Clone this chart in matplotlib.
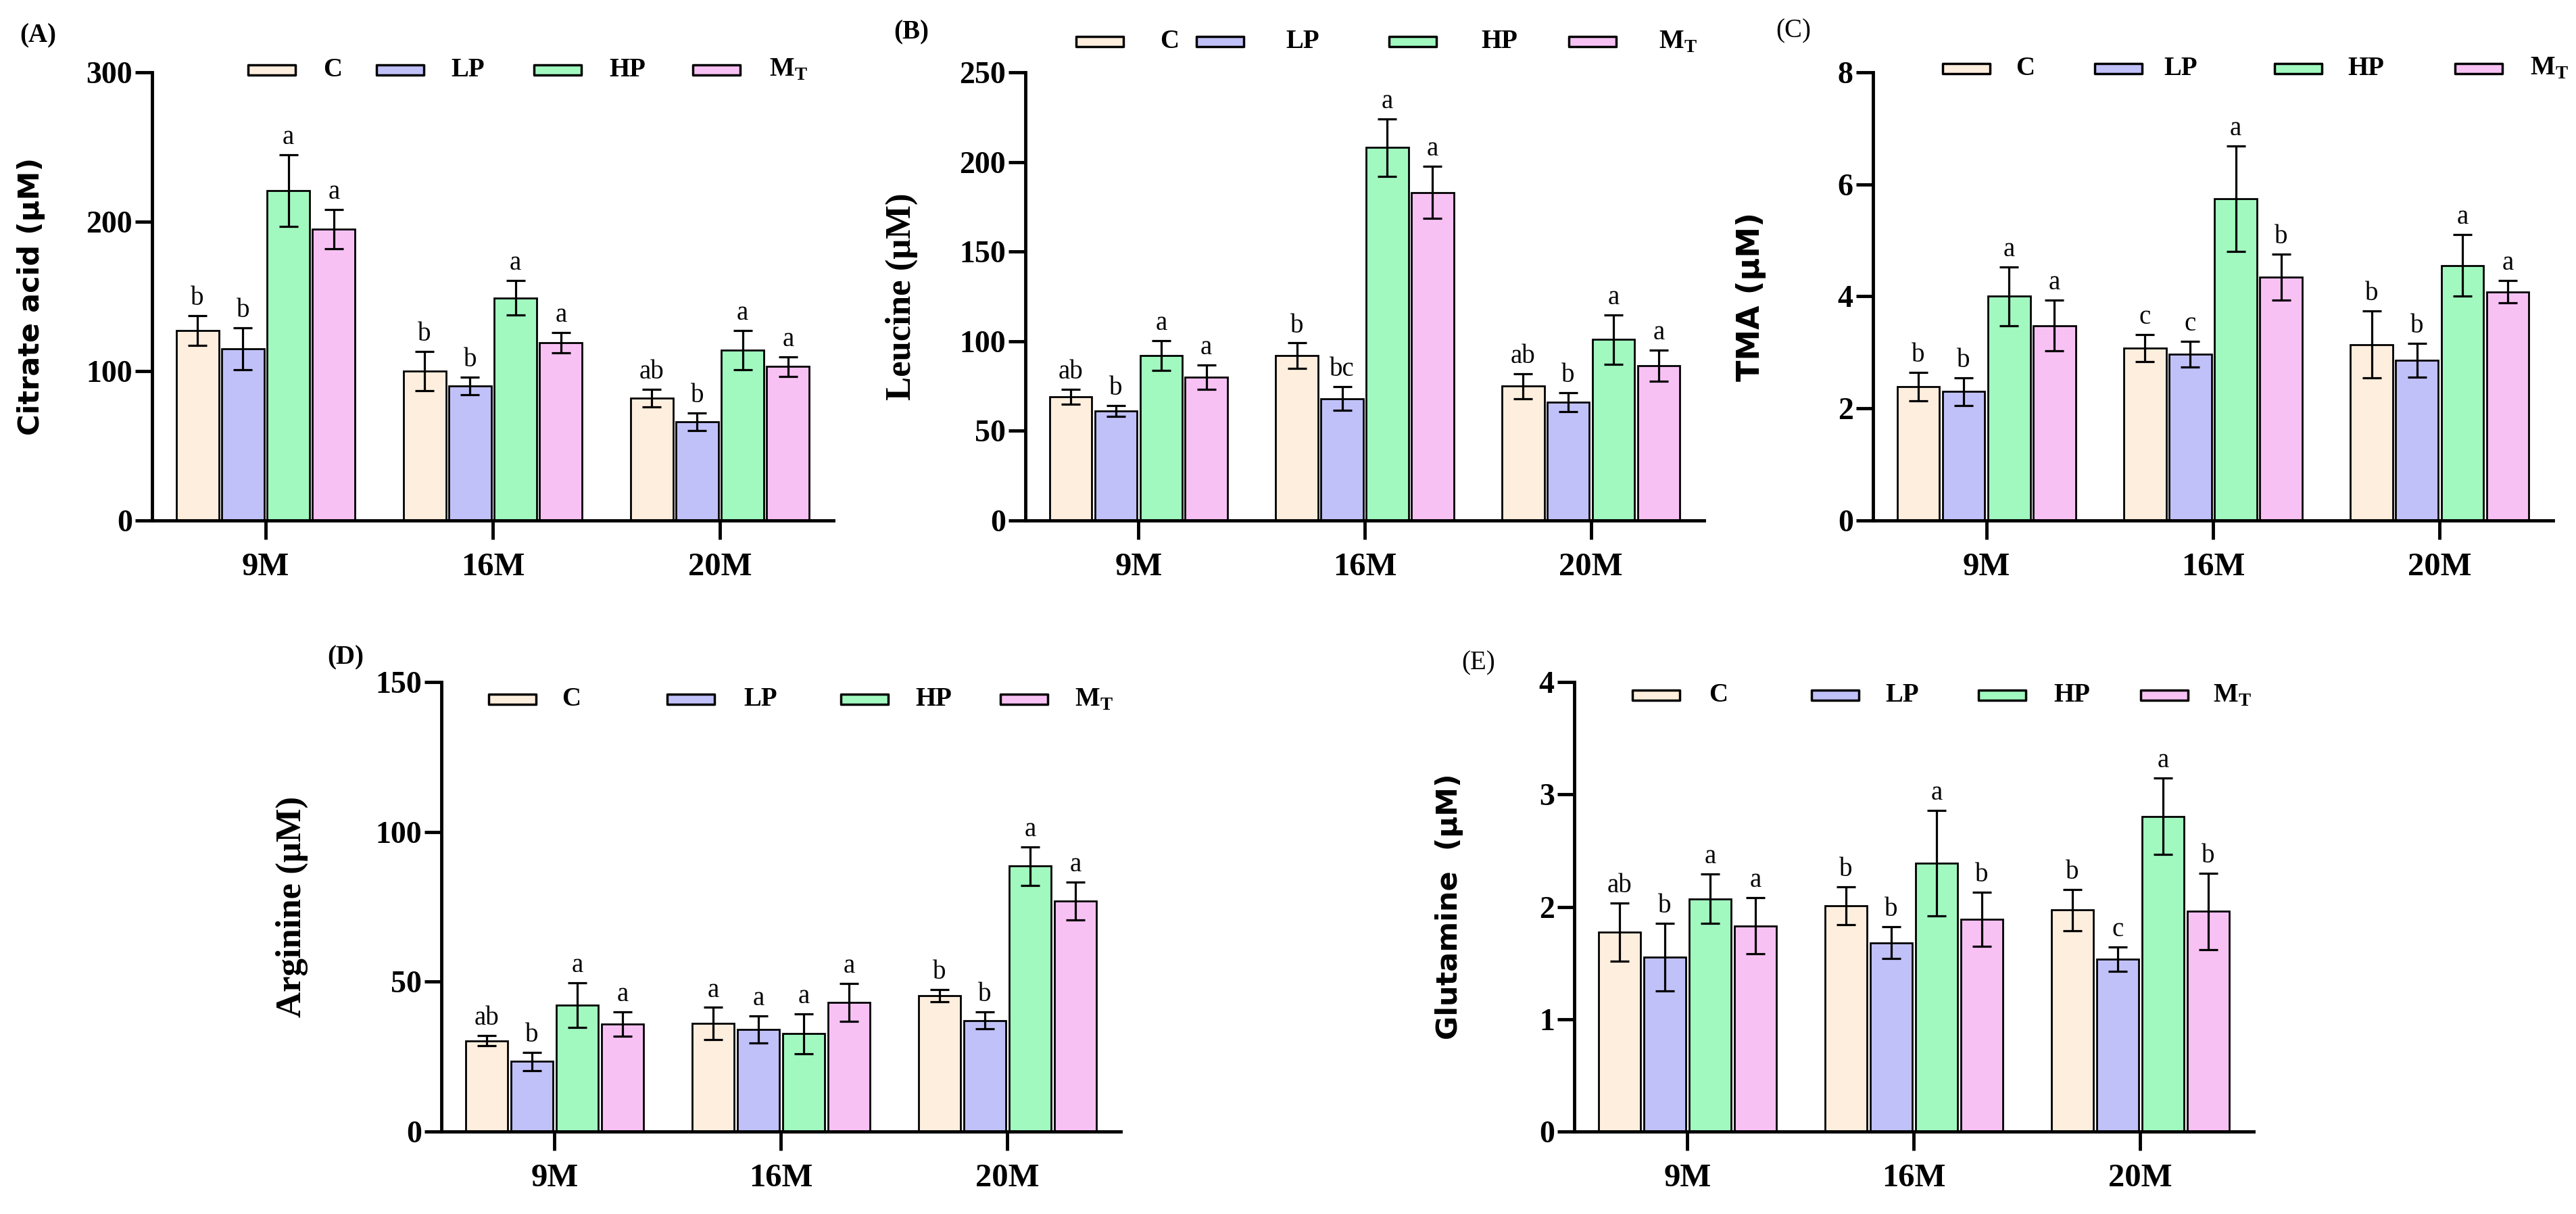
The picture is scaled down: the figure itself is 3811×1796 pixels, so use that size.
import numpy as np
import matplotlib
matplotlib.use('Agg')
import matplotlib.pyplot as plt
from matplotlib.patches import Rectangle

plt.rcParams['font.family'] = 'Liberation Serif'
plt.rcParams['font.weight'] = 'bold'
plt.rcParams['mathtext.fontset'] = 'custom'
plt.rcParams['mathtext.rm'] = 'Liberation Serif:bold'
plt.rcParams['mathtext.bf'] = 'Liberation Serif:bold'

groups = ['9M', '16M', '20M']
series = ['C', 'LP', 'HP', r'M$_\mathregular{T}$']
colors = ['#FEEEDD', '#C1C1FA', '#A1F9BF', '#F8C1F4']

# rows: C, LP, HP, MT   cols: 9M, 16M, 20M
citrate_mean = [[127, 100, 82], [115, 90, 66], [221, 149, 114], [195, 119, 103]]
citrate_err = [[10, 13, 6], [14, 6, 6], [24, 11.5, 13], [13, 7, 6.5]]
citrate_let = [['b', 'b', 'ab'], ['b', 'b', 'b'], ['a', 'a', 'a'], ['a', 'a', 'a']]

leucine_mean = [[69, 92, 75], [61, 68, 66], [92, 208, 101], [80, 183, 86.5]]
leucine_err = [[4.3, 7, 7], [3, 6.7, 5.2], [8.3, 16, 13.8], [6.8, 14.6, 8.7]]
leucine_let = [['ab', 'b', 'ab'], ['b', 'bc', 'b'], ['a', 'a', 'a'], ['a', 'a', 'a']]

tma_mean = [[2.39, 3.08, 3.14], [2.30, 2.97, 2.86], [4.0, 5.74, 4.55], [3.48, 4.34, 4.08]]
tma_err = [[0.25, 0.24, 0.6], [0.25, 0.23, 0.3], [0.52, 0.94, 0.55], [0.45, 0.41, 0.2]]
tma_let = [['b', 'c', 'b'], ['b', 'c', 'b'], ['a', 'a', 'a'], ['a', 'b', 'a']]

arginine_mean = [[30.3, 36.0, 45.3], [23.4, 34.1, 37.1], [42.2, 32.6, 88.6], [35.8, 43.1, 76.9]]
arginine_err = [[1.7, 5.4, 2.1], [3, 4.5, 2.8], [7.4, 6.7, 6.4], [4.1, 6.4, 6.4]]
arginine_let = [['ab', 'a', 'b'], ['b', 'a', 'b'], ['a', 'a', 'a'], ['a', 'a', 'a']]

glutamine_mean = [[1.775, 2.01, 1.97], [1.55, 1.68, 1.535], [2.07, 2.39, 2.805], [1.83, 1.89, 1.96]]
glutamine_err = [[0.26, 0.17, 0.185], [0.3, 0.14, 0.11], [0.22, 0.47, 0.34], [0.25, 0.24, 0.34]]
glutamine_let = [['ab', 'b', 'b'], ['b', 'b', 'c'], ['a', 'a', 'a'], ['a', 'b', 'b']]

W, H = 3812, 1796
fig = plt.figure(figsize=(W / 100, H / 100), dpi=100)


def panel(px, mean, err, letters, ymax, ystep, ylabel, lab_family, lab_size, lab_x,
          tag, tag_xy, tag_weight, leg_px, leg_tx, leg_y):
    # px = (left, zero line, width, height) in pixels
    left, y0, w, h = px
    ax = fig.add_axes([left / W, 1 - y0 / H, w / W, h / H])
    x = np.arange(len(groups))
    for i in range(len(series)):
        ax.bar(x + (i - 1.5) * 0.2, mean[i], 0.187, yerr=err[i], color=colors[i],
               edgecolor='black', linewidth=2,
               error_kw=dict(ecolor='black', elinewidth=2.3, capsize=10, capthick=2.3))
        for j in range(len(groups)):
            ax.annotate(letters[i][j], (x[j] + (i - 1.5) * 0.2, mean[i][j] + err[i][j]),
                        xytext=(0, 5), textcoords='offset points', ha='center', va='bottom',
                        fontsize=28, fontweight='normal')
    ax.set_xlim(-0.5, 2.5)
    ax.set_ylim(0, ymax)
    ax.set_yticks(np.arange(0, ymax + ystep / 2, ystep))
    ax.set_xticks(x)
    ax.set_xticklabels(groups)
    for s in ['top', 'right']:
        ax.spines[s].set_visible(False)
    for s in ['left', 'bottom']:
        ax.spines[s].set_linewidth(3.5)
    ax.tick_params(axis='y', length=18, width=3.5, pad=3, labelsize=33)
    ax.tick_params(axis='x', length=20, width=3.5, pad=14, labelsize=35)
    ax.set_ylabel(ylabel, family=lab_family, fontsize=lab_size, fontweight='bold')
    ax.yaxis.set_label_coords(lab_x, 0.5)
    fig.text(tag_xy[0] / W, 1 - tag_xy[1] / H, tag, ha='center', va='center',
             fontsize=28, fontweight=tag_weight)
    # legend drawn entry by entry to keep the uneven spacing
    pw, ph = 70 / w, 15 / h
    for i in range(len(series)):
        ax.add_patch(Rectangle((leg_px[i], leg_y - ph / 2), pw, ph, transform=ax.transAxes,
                               facecolor=colors[i], edgecolor='black', linewidth=2.5,
                               joinstyle='round', clip_on=False))
        ax.text(leg_tx[i], leg_y, series[i], transform=ax.transAxes, ha='left',
                va='center', fontsize=28, fontweight='bold')
    return ax


panel((225, 770, 1008, 663), citrate_mean, citrate_err, citrate_let, 300, 100,
      'Citrate acid (μM)', 'DejaVu Sans', 31, -0.157, '(A)', (56, 53), 'bold',
      [0.141, 0.329, 0.561, 0.794], [0.251, 0.439, 0.671, 0.906], 1.005)
panel((1517, 770, 1004, 663), leucine_mean, leucine_err, leucine_let, 250, 50,
      'Leucine (μM)', 'Liberation Serif', 38, -0.158, '(B)', (1348, 48), 'bold',
      [0.075, 0.252, 0.536, 0.801], [0.198, 0.384, 0.672, 0.933], 1.068)
panel((2771, 770, 1006, 663), tma_mean, tma_err, tma_let, 8, 2,
      'TMA (μM)', 'DejaVu Sans', 33, -0.157, '(C)', (2653, 46), 'normal',
      [0.102, 0.326, 0.590, 0.856], [0.210, 0.428, 0.698, 0.966], 1.008)
panel((653, 1674, 1005, 665), arginine_mean, arginine_err, arginine_let, 150, 50,
      'Arginine (μM)', 'Liberation Serif', 38, -0.196, '(D)', (511, 973), 'bold',
      [0.070, 0.332, 0.588, 0.823], [0.177, 0.445, 0.698, 0.932], 0.961)
panel((2329, 1674, 1005, 665), glutamine_mean, glutamine_err, glutamine_let, 4, 1,
      'Glutamine  (μM)', 'DejaVu Sans', 31, -0.163, '(E)', (2187, 981), 'normal',
      [0.086, 0.349, 0.595, 0.834], [0.198, 0.458, 0.706, 0.940], 0.970)

fig.savefig('out.png', dpi=100, facecolor='white')
